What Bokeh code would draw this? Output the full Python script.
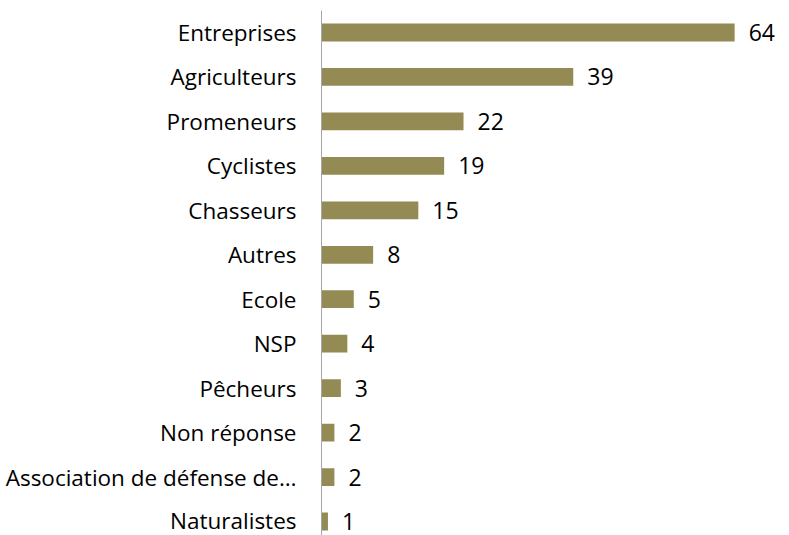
from bokeh.plotting import figure
from bokeh.models import Range1d, FixedTicker, ColumnDataSource
from bokeh.core.properties import value
from bokeh.embed import file_html
from bokeh.resources import INLINE

categories = ["Entreprises", "Agriculteurs", "Promeneurs", "Cyclistes", "Chasseurs",
              "Autres", "Ecole", "NSP", "Pêcheurs", "Non réponse",
              "Association de défense de…", "Naturalistes"]
counts = [64, 39, 22, 19, 15, 8, 5, 4, 3, 2, 2, 1]

n = len(categories)
ypos = [n - 1 - i for i in range(n)]
src = ColumnDataSource(dict(cat=categories, val=counts, y=ypos,
                            lab=[str(v) for v in counts]))

p = figure(width=789, height=535, output_backend="svg", toolbar_location=None,
           x_range=Range1d(0, 72.5), y_range=Range1d(-0.315, 11.495),
           min_border_left=321, min_border_right=0, min_border_top=10, min_border_bottom=0,
           frame_width=468, frame_height=525)
p.hbar(y="y", right="val", left=0, height=0.4, source=src,
       fill_color="#948A54", line_color=None)
p.text(x="val", y="y", text="lab", source=src, x_offset=14,
       text_baseline="middle", text_align="left",
       text_font=value("Open Sans"), text_font_size="23px", text_color="#000000")

p.xaxis.visible = False
p.xgrid.visible = False
p.ygrid.visible = False
p.outline_line_color = None
p.yaxis.ticker = FixedTicker(ticks=ypos)
p.yaxis.major_label_overrides = {y: c for y, c in zip(ypos, categories)}
p.yaxis.major_tick_line_color = None
p.yaxis.minor_tick_line_color = None
p.yaxis.axis_line_color = "#A6A6A6"
p.yaxis.major_label_text_font = "Open Sans"
p.yaxis.major_label_text_font_size = "22.5px"
p.yaxis.major_label_text_color = "#000000"
p.yaxis.major_label_standoff = 19

open("out.html", "w").write(file_html(p, INLINE))
